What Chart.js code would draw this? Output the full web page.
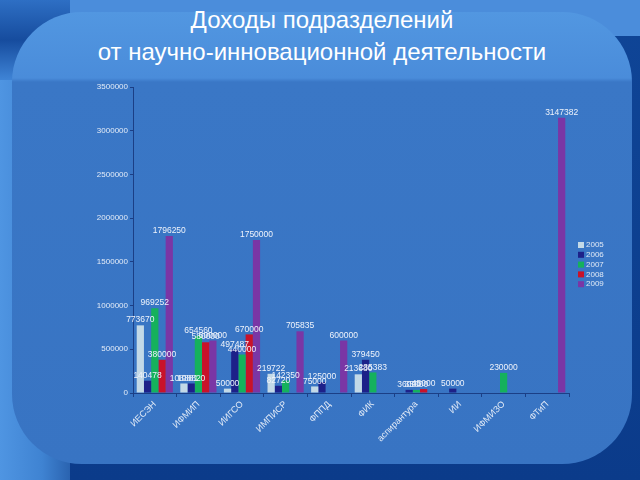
<!DOCTYPE html>
<html>
<head>
<meta charset="utf-8">
<script src="https://cdn.jsdelivr.net/npm/chart.js@4"></script>
<style>
html,body{margin:0;padding:0;width:640px;height:480px;overflow:hidden;background:#0c3f8f;}
#bg{position:absolute;left:0;top:0;width:640px;height:480px;background:linear-gradient(to bottom,#0f4597 0,#0b3b8a 100%);}
#strip{position:absolute;left:0;top:80px;width:70px;height:400px;background:linear-gradient(to right,#4f95e2 0,#3f83d2 60%,#2a63b0 100%);}
#band{position:absolute;left:70px;top:0;width:570px;height:36px;background:#4b8ddb;}
#bandl{position:absolute;left:0;top:0;width:70px;height:80px;background:linear-gradient(to bottom,#2e6fc4 0,#164c9e 50%,#3f84d6 100%);}
#panel{position:absolute;left:12px;top:12px;width:620px;height:452px;border-radius:70px;background:linear-gradient(to bottom,#5297e1 0,#4a8cda 66px,#3a77c6 70px,#3874c3 100%);}
.t{position:absolute;left:0;width:644px;text-align:center;color:#ffffff;font-family:"Liberation Sans",Arial,sans-serif;font-size:24px;line-height:28px;white-space:nowrap;}
#c{position:absolute;left:0;top:0;}
</style>
</head>
<body>
<div id="bg"></div>
<div id="strip"></div>
<div id="band"></div>
<div id="bandl"></div>
<div id="panel"></div>
<div class="t" style="top:6px;">Доходы подразделений</div>
<div class="t" style="top:38px;">от научно-инновационной деятельности</div>
<canvas id="c" width="640" height="480"></canvas>
<script>
const categories = ["ИЕСЭН","ИФМИП","ИИГСО","ИМПИСР","ФППД","ФИК","аспирантура","ИИ","ИФМИЗО","ФТиП"];
const seriesNames = ["2005","2006","2007","2008","2009"];
const v2005 = [773670,108881,50000,219722,75000,213680,0,0,0,0];
const v2006 = [140478,108820,497487,82720,125000,379450,36000,50000,0,0];
const v2007 = [969252,654560,440000,142350,0,235383,35000,0,230000,0];
const v2008 = [380000,580000,670000,0,0,0,45000,0,0,0];
const v2009 = [1796250,600000,1750000,705835,600000,0,0,0,0,3147382];
const yTicks = [0,500000,1000000,1500000,2000000,2500000,3000000,3500000];
const colors = ["#c3d9e7","#1d2189","#15b15c","#c9122a","#7a36a5"];

const allSeries = [v2005,v2006,v2007,v2008,v2009];
const datasets = allSeries.map((d,i)=>({label:seriesNames[i],data:d,backgroundColor:colors[i],borderWidth:0,categoryPercentage:0.83,barPercentage:1.0}));

const labelPlugin = {
  id:'vals',
  afterDatasetsDraw(chart){
    const ctx = chart.ctx;
    ctx.save();
    ctx.font = '8.5px "Liberation Sans", Arial, sans-serif';
    ctx.fillStyle = '#eef3fb';
    ctx.textAlign = 'center';
    ctx.textBaseline = 'bottom';
    chart.data.datasets.forEach((ds,di)=>{
      const meta = chart.getDatasetMeta(di);
      meta.data.forEach((el,i)=>{
        const v = ds.data[i];
        if(v>0){ ctx.fillText(String(v), el.x, el.y-1); }
      });
    });
    ctx.restore();
  }
};
const legendPlugin = {
  id:'leg',
  afterDraw(chart){
    const ctx = chart.ctx;
    ctx.save();
    ctx.font = '8px "Liberation Sans", Arial, sans-serif';
    ctx.textAlign='left'; ctx.textBaseline='middle';
    chart.data.datasets.forEach((ds,i)=>{
      const y = 245 + i*9.8;
      ctx.fillStyle = ds.backgroundColor;
      ctx.fillRect(578, y-3, 6, 6);
      ctx.fillStyle = '#dfe8f5';
      ctx.fillText(ds.label, 586, y);
    });
    ctx.restore();
  }
};

new Chart(document.getElementById('c'),{
  type:'bar',
  data:{labels:categories,datasets:datasets},
  options:{
    responsive:false,animation:false,
    layout:{padding:{left:75,right:71,top:87,bottom:27}},
    plugins:{legend:{display:false},tooltip:{enabled:false}},
    scales:{
      x:{
        grid:{display:true,drawOnChartArea:false,drawTicks:true,tickLength:4,color:'#1b3f86',offset:true},
        border:{display:true,color:'#1b3f86',width:1},
        ticks:{color:'#e3ebf7',font:{size:9,family:'"Liberation Sans", Arial, sans-serif'},minRotation:45,maxRotation:45,padding:2},
        afterFit(s){s.height=60;}
      },
      y:{
        min:0,max:3500000,
        afterBuildTicks(s){s.ticks = yTicks.map(v=>({value:v}));},
        grid:{display:true,drawOnChartArea:false,drawTicks:true,tickLength:3,color:'#1b3f86'},
        border:{display:true,color:'#1b3f86',width:1},
        ticks:{color:'#e3ebf7',font:{size:8,family:'"Liberation Sans", Arial, sans-serif'},padding:2,callback:(v)=>String(v)},
        afterFit(s){s.width=58;}
      }
    }
  },
  plugins:[labelPlugin,legendPlugin]
});
</script>
</body>
</html>
